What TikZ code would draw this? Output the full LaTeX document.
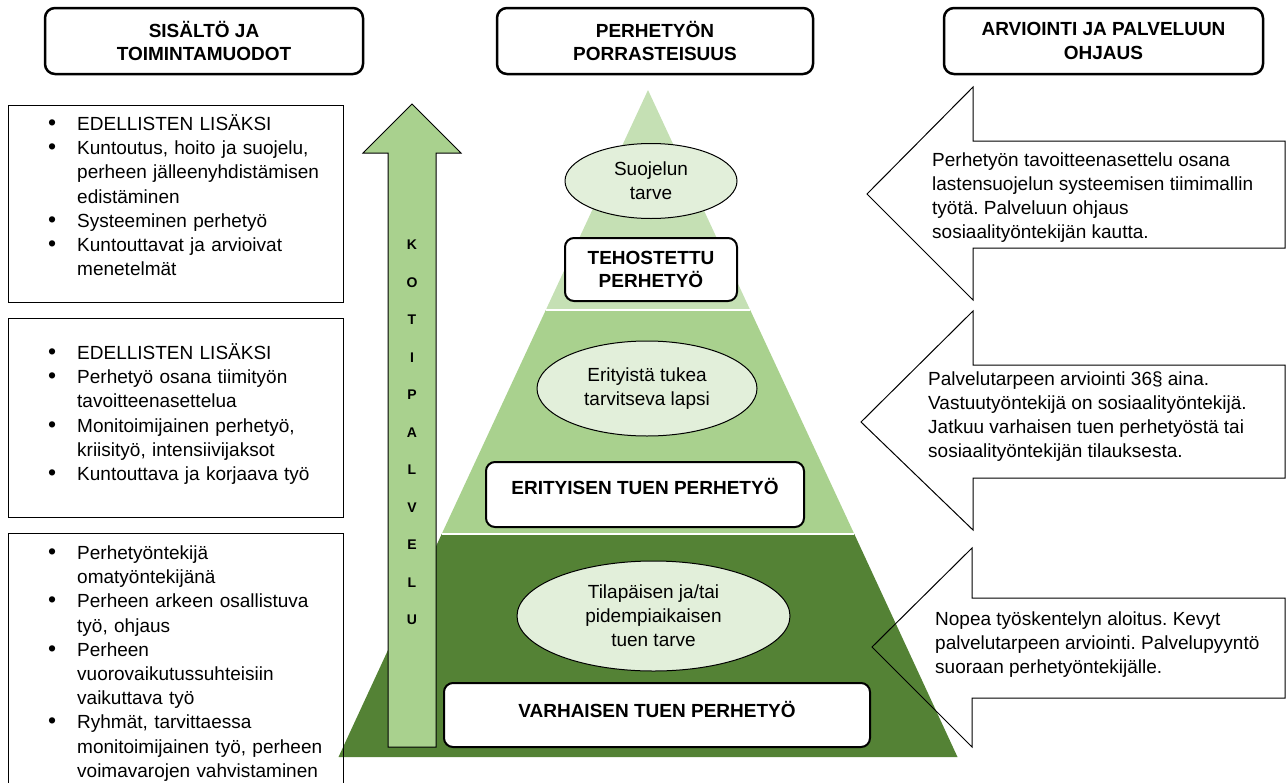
\documentclass[tikz,border=0pt]{standalone}
\usepackage{fontspec}
\setmainfont{Liberation Sans}
\usepackage{enumitem}
\usetikzlibrary{shapes.geometric,positioning}

\definecolor{latva}{HTML}{C5E0B4}
\definecolor{keski}{HTML}{A9D18E}
\definecolor{pohja}{HTML}{548235}
\definecolor{soikiovari}{HTML}{E2EFDA}

\frenchspacing
\newcommand{\leipa}{\fontsize{19}{24.2}\selectfont}
\newcommand{\otsikkofontti}{\bfseries\fontsize{19}{23.5}\selectfont}
\setlist[itemize]{label={\fontsize{23}{23}\selectfont\textbullet}, leftmargin=69pt, labelsep=21pt, nosep}

\tikzset{
  otsikko/.style={draw, line width=2.5pt, rounded corners=10pt, minimum height=66pt, align=center, font=\otsikkofontti, inner sep=0pt},
  laatikko/.style={draw, line width=1.1pt, anchor=north west, minimum width=335pt, inner sep=0pt},
  lista/.style={anchor=north west, inner sep=0pt, text width=330pt, align=left, font=\leipa},
  soikio/.style={ellipse, draw, line width=1pt, fill=soikiovari, inner sep=0pt, align=center, font=\fontsize{19}{24}\selectfont},
  taso/.style={draw, line width=2pt, rounded corners=9pt, fill=white, inner sep=0pt, align=center, font=\otsikkofontti},
  nuoli/.style={draw, line width=1pt},
  selite/.style={anchor=north west, inner sep=0pt, align=left, font=\leipa},
  kirjain/.style={font=\bfseries\fontsize{14}{14}\selectfont, inner sep=0pt}
}

\begin{document}
\begin{tikzpicture}[x=1pt, y=-1pt]
\useasboundingbox (0,0) rectangle (1288,782);
\clip (0,0) rectangle (1288,782);

\node[otsikko, minimum width=318pt] (sisalto) at (204,41) {SISÄLTÖ JA\\TOIMINTAMUODOT};
\node[otsikko, minimum width=316pt] (porras) at (655,41) {PERHETYÖN\\PORRASTEISUUS};
\node[otsikko, minimum width=319pt] (arviointi) at (1103.5,41) {ARVIOINTI JA PALVELUUN\\OHJAUS};

\fill[latva] (648,90) -- (750.2,310) -- (545.8,310) -- cycle;
\fill[keski] (545.8,310) -- (750.2,310) -- (854.3,534) -- (441.7,534) -- cycle;
\fill[pohja] (441.7,534) -- (854.3,534) -- (957.5,757) -- (338.5,757) -- cycle;
\draw[white, line width=1.5pt] (545.8,310) -- (750.2,310) (441.7,534) -- (854.3,534);

\node[soikio, minimum width=172pt, minimum height=75pt] (suojelu) at (651,181) {Suojelun\\tarve};
\node[taso, minimum width=172pt, minimum height=63pt] (tehostettu) at (651,269.5) {TEHOSTETTU\\PERHETYÖ};
\node[soikio, minimum width=220pt, minimum height=95pt] (erityinen) at (647,388.5) {Erityistä tukea\\tarvitseva lapsi};
\node[taso, minimum width=318pt, minimum height=65pt, text height=14pt, text depth=14pt] (erityisen) at (645,494.5) {ERITYISEN TUEN PERHETYÖ};
\node[soikio, minimum width=273pt, minimum height=110pt] (tilapainen) at (653.5,616) {Tilapäisen ja/tai\\pidempiaikaisen\\tuen tarve};
\node[taso, minimum width=426pt, minimum height=64pt, text height=14pt, text depth=10pt] (varhainen) at (657,715) {VARHAISEN TUEN PERHETYÖ};

\draw[nuoli, fill=keski] (412,104) -- (461,153) -- (436,153) -- (436,747) -- (388,747) -- (388,153) -- (363,153) -- cycle;
\foreach \kirj [count=\i] in {K,O,T,I,P,A,L,V,E,L,U}
  \node[kirjain] (kp\i) at (412,207.5+37.5*\i) {\kirj};

\node[laatikko, minimum height=197pt] (laatikko1) at (8,105) {};
\node[laatikko, minimum height=199pt] (laatikko2) at (8,318) {};
\node[laatikko, minimum height=280pt] (laatikko3) at (8,533) {};

\node[lista] (lista1) at (8,106) {\begin{itemize}
  \item EDELLISTEN LISÄKSI
  \item Kuntoutus, hoito ja suojelu,\newline perheen jälleenyhdistämisen\newline edistäminen
  \item Systeeminen perhetyö
  \item Kuntouttavat ja arvioivat\newline menetelmät
\end{itemize}};
\node[lista] (lista2) at (8,335) {\begin{itemize}
  \item EDELLISTEN LISÄKSI
  \item Perhetyö osana tiimityön\newline tavoitteenasettelua
  \item Monitoimijainen perhetyö,\newline kriisityö, intensiivijaksot
  \item Kuntouttava ja korjaava työ
\end{itemize}};
\node[lista] (lista3) at (8,535) {\begin{itemize}
  \item Perhetyöntekijä\newline omatyöntekijänä
  \item Perheen arkeen osallistuva\newline työ, ohjaus
  \item Perheen\newline vuorovaikutussuhteisiin\newline vaikuttava työ
  \item Ryhmät, tarvittaessa\newline monitoimijainen työ, perheen\newline voimavarojen vahvistaminen
\end{itemize}};

\draw[nuoli] (867,194) -- (973,87) -- (973,141) -- (1285,141) -- (1285,248) -- (973,248) -- (973,300) -- cycle;
\draw[nuoli] (861,422) -- (973,311) -- (973,365) -- (1285,365) -- (1285,478) -- (973,478) -- (973,530) -- cycle;
\draw[nuoli] (872,647) -- (972,548) -- (972,598) -- (1285,598) -- (1285,698) -- (972,698) -- (972,747) -- cycle;

\node[selite] (ohjaus1) at (932,149) {\strut Perhetyön tavoitteenasettelu osana\\lastensuojelun systeemisen tiimimallin\\työtä. Palveluun ohjaus\\sosiaalityöntekijän kautta.};
\node[selite] (ohjaus2) at (928,368) {\strut Palvelutarpeen arviointi 36§ aina.\\Vastuutyöntekijä on sosiaalityöntekijä.\\Jatkuu varhaisen tuen perhetyöstä tai\\sosiaalityöntekijän tilauksesta.};
\node[selite] (ohjaus3) at (935,608) {\strut Nopea työskentelyn aloitus. Kevyt\\palvelutarpeen arviointi. Palvelupyyntö\\suoraan perhetyöntekijälle.};
\end{tikzpicture}
\end{document}
